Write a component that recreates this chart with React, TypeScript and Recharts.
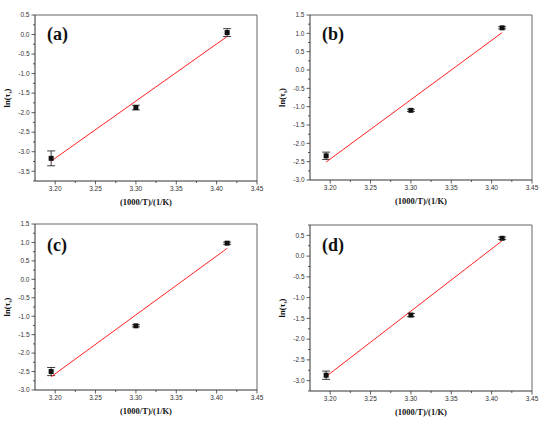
import React from "react";
import {
  ErrorBar,
  ReferenceLine,
  Scatter,
  ScatterChart,
  XAxis,
  YAxis,
} from "recharts";

// 1000/T for 40, 30 and 20 °C
const invTemp = [3.195, 3.3, 3.413];
const fitX = [3.195, 3.413];

const lnTauA = [-3.17, -1.87, 0.05];
const errA = [0.19, 0.06, 0.1];
const fitA = [-3.24, -0.05];

const lnTauB = [-2.34, -1.1, 1.15];
const errB = [0.1, 0.03, 0.03];
const fitB = [-2.51, 1.02];

const lnTauC = [-2.5, -1.26, 0.98];
const errC = [0.11, 0.03, 0.03];
const fitC = [-2.64, 0.84];

const lnTauD = [-2.87, -1.42, 0.43];
const errD = [0.1, 0.04, 0.03];
const fitD = [-2.9, 0.37];

const xTicks = [3.2, 3.225, 3.25, 3.275, 3.3, 3.325, 3.35, 3.375, 3.4, 3.425, 3.45];
const yTicksA = [-3.75, -3.5, -3.25, -3, -2.75, -2.5, -2.25, -2, -1.75, -1.5, -1.25, -1, -0.75, -0.5, -0.25, 0, 0.25, 0.5];
const yTicksBC = [-3, -2.75, -2.5, -2.25, -2, -1.75, -1.5, -1.25, -1, -0.75, -0.5, -0.25, 0, 0.25, 0.5, 0.75, 1, 1.25, 1.5];
const yTicksD = [-3.25, -3, -2.75, -2.5, -2.25, -2, -1.75, -1.5, -1.25, -1, -0.75, -0.5, -0.25, 0, 0.25, 0.5, 0.75];

const SANS = "'Liberation Sans', Arial, sans-serif";
const SERIF = "'Liberation Serif', 'Times New Roman', serif";
const AXIS = "#333";

type Panel = {
  tag: string;
  values: number[];
  errors: number[];
  fit: number[];
  yDomain: [number, number];
  yTicks: number[];
  top: number;
  bottom: number;
  left: number;
  offsetY: number;
};

const panels: Panel[] = [
  { tag: "(a)", values: lnTauA, errors: errA, fit: fitA, yDomain: [-3.75, 0.5], yTicks: yTicksA, top: 15, bottom: 30, left: 0, offsetY: 0 },
  { tag: "(b)", values: lnTauB, errors: errB, fit: fitB, yDomain: [-3, 1.5], yTicks: yTicksBC, top: 15, bottom: 31, left: 275, offsetY: 0 },
  { tag: "(c)", values: lnTauC, errors: errC, fit: fitC, yDomain: [-3, 1.5], yTicks: yTicksBC, top: 13, bottom: 32, left: 0, offsetY: 211 },
  { tag: "(d)", values: lnTauD, errors: errD, fit: fitD, yDomain: [-3.25, 0.75], yTicks: yTicksD, top: 14, bottom: 31, left: 275, offsetY: 211 },
];

const onStep = (v: number, step: number) => Math.abs(v / step - Math.round(v / step)) < 1e-6;

function XTick(props: any) {
  const { x, y, payload } = props;
  const v = payload.value as number;
  const major = onStep(v, 0.05);
  return (
    <g>
      <line x1={x} x2={x} y1={y} y2={y + (major ? 3.5 : 2)} stroke={AXIS} strokeWidth={0.8} />
      {major && (
        <text x={x} y={y + 10} textAnchor="middle" fontSize={6.5} fontFamily={SANS} fill="#333">
          {v.toFixed(2)}
        </text>
      )}
    </g>
  );
}

function YTick(props: any) {
  const { x, y, payload } = props;
  const v = payload.value as number;
  const major = onStep(v, 0.5);
  return (
    <g>
      <line x1={x} x2={x - (major ? 3.5 : 2)} y1={y} y2={y} stroke={AXIS} strokeWidth={0.8} />
      {major && (
        <text x={x - 5.5} y={y + 2.3} textAnchor="end" fontSize={6.5} fontFamily={SANS} fill="#333">
          {v.toFixed(1)}
        </text>
      )}
    </g>
  );
}

function YLabel(props: any) {
  const vb = props.viewBox || {};
  const cx = 10;
  const cy = (vb.y ?? 0) + (vb.height ?? 0) / 2;
  return (
    <text
      x={cx}
      y={cy}
      transform={`rotate(-90 ${cx} ${cy})`}
      textAnchor="middle"
      fontSize={8.5}
      fontWeight="bold"
      fontFamily={SERIF}
      fill="#111"
    >
      <tspan>ln(τ</tspan>
      <tspan fontSize={5.5} dy={2}>s</tspan>
      <tspan dy={-2}>)</tspan>
    </text>
  );
}

function XLabel(props: any) {
  const vb = props.viewBox || {};
  const cx = (vb.x ?? 0) + (vb.width ?? 0) / 2;
  return (
    <text x={cx} y={(vb.y ?? 0) + 24} textAnchor="middle" fontSize={8.5} fontWeight="bold" fontFamily={SERIF} fill="#111">
      (1000/T)/(1/K)
    </text>
  );
}

const square = (p: any) => <rect x={p.cx - 2.5} y={p.cy - 2.5} width={5} height={5} fill="#111" />;
const noMark = () => <g />;

function PanelChart({ panel }: { panel: Panel }) {
  const points = invTemp.map((x, i) => ({ x, y: panel.values[i], err: panel.errors[i] }));
  const fitLine = fitX.map((x, i) => ({ x, y: panel.fit[i] }));
  return (
    <div style={{ position: "absolute", left: panel.left, top: panel.offsetY, width: 275, height: 211 }}>
      <ScatterChart width={275} height={211} margin={{ top: panel.top, right: 18, bottom: 0, left: 0 }}>
        <XAxis
          type="number"
          dataKey="x"
          domain={[3.175, 3.45]}
          ticks={xTicks}
          interval={0}
          allowDataOverflow
          tick={<XTick />}
          tickSize={0}
          tickMargin={0}
          tickLine={false}
          axisLine={{ stroke: AXIS, strokeWidth: 1 }}
          height={panel.bottom}
          label={<XLabel />}
        />
        <YAxis
          type="number"
          dataKey="y"
          domain={panel.yDomain}
          ticks={panel.yTicks}
          interval={0}
          allowDataOverflow
          tick={<YTick />}
          tickSize={0}
          tickMargin={0}
          tickLine={false}
          axisLine={{ stroke: AXIS, strokeWidth: 1 }}
          width={35}
          label={<YLabel />}
        />
        <ReferenceLine y={panel.yDomain[1]} stroke="#666" strokeWidth={1} />
        <ReferenceLine x={3.45} stroke="#666" strokeWidth={1} />
        <Scatter
          data={fitLine}
          line={{ stroke: "#ff2020", strokeWidth: 1 }}
          shape={noMark}
          isAnimationActive={false}
        />
        <Scatter data={points} shape={square} isAnimationActive={false}>
          <ErrorBar dataKey="err" direction="y" width={4} stroke="#111" strokeWidth={0.8} />
        </Scatter>
      </ScatterChart>
      <div
        style={{
          position: "absolute",
          left: 47,
          top: 24,
          fontFamily: SERIF,
          fontWeight: "bold",
          fontSize: 18,
          lineHeight: "20px",
          color: "#111",
        }}
      >
        {panel.tag}
      </div>
    </div>
  );
}

export default function App() {
  return (
    <div style={{ position: "absolute", left: 0, top: 0, width: 550, height: 422, background: "#fff" }}>
      {panels.map((p) => (
        <PanelChart key={p.tag} panel={p} />
      ))}
    </div>
  );
}
